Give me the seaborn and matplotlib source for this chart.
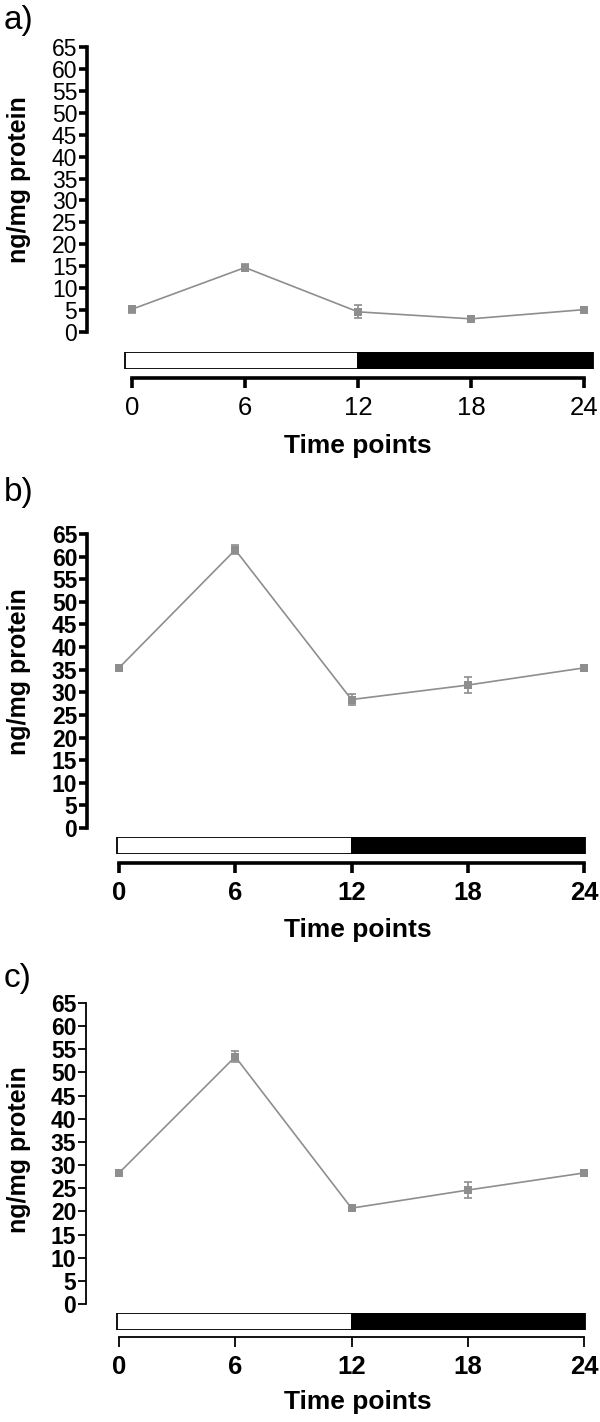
import matplotlib
matplotlib.use("Agg")
import matplotlib.pyplot as plt
import seaborn as sns
import pandas as pd

# data (mean +/- SEM)
time_points = [0, 6, 12, 18, 24]
mean_a = [5.2, 14.7, 4.6, 3.0, 5.1]
sem_a = [0.8, 0.8, 1.5, 0.3, 0.6]
mean_b = [35.4, 61.5, 28.4, 31.6, 35.4]
sem_b = [0.3, 1.0, 1.2, 1.7, 0.3]
mean_c = [28.3, 53.4, 20.7, 24.6, 28.3]
sem_c = [0.3, 1.2, 0.4, 1.7, 0.3]
y_ticks = list(range(0, 70, 5))
light_phase = [0, 12]
dark_phase = [12, 24]
panel_letters = ["a)", "b)", "c)"]

sns.set_style("white")
plt.rcParams["font.family"] = ["Liberation Sans", "DejaVu Sans"]
plt.rcParams["text.color"] = "black"
plt.rcParams["axes.labelcolor"] = "black"

W, H = 600, 1422
fig = plt.figure(figsize=(6, 14.22), dpi=100)


def px_axes(left, top, right, bottom):
    return fig.add_axes([left / W, 1 - bottom / H, (right - left) / W, (bottom - top) / H])


# pixel layout of each panel
layout = [
    dict(letter_y=20, top=47, zero=332, spine_x=87, x0=132, x24=584, pad_l=0.37, pad_r=0.48,
         bar_top=352, bar_bot=369, axis_y=378, bold=False, lw=2.6, ylab_y=180, xlab_y=434),
    dict(letter_y=493, top=534, zero=828, spine_x=87, x0=119, x24=584, pad_l=0.1, pad_r=0.05,
         bar_top=837, bar_bot=854, axis_y=863, bold=True, lw=2.6, ylab_y=672, xlab_y=918),
    dict(letter_y=978, top=1003, zero=1304, spine_x=86, x0=119, x24=584, pad_l=0.1, pad_r=0.05,
         bar_top=1313, bar_bot=1330, axis_y=1337, bold=True, lw=1.3, ylab_y=1150, xlab_y=1390),
]
means = [mean_a, mean_b, mean_c]
sems = [sem_a, sem_b, sem_c]
grey = "#8e8e8e"

for i, L in enumerate(layout):
    ppu = (L["x24"] - L["x0"]) / 24.0
    right_px = L["x24"] + 10
    xlim = ((L["spine_x"] - L["x0"]) / ppu, (right_px - L["x0"]) / ppu)
    tick_weight = "bold" if L["bold"] else "normal"

    # main data axes
    ax = px_axes(L["spine_x"], L["top"], right_px, L["zero"])
    df = pd.DataFrame({"time": time_points, "value": means[i]})
    ax.errorbar(time_points, means[i], yerr=sems[i], fmt="none", ecolor=grey,
                elinewidth=1.2, capsize=3, capthick=1.2, zorder=2)
    sns.lineplot(data=df, x="time", y="value", ax=ax, color=grey, linewidth=1.2,
                 marker="s", markersize=5.5, markeredgewidth=0, zorder=3)
    ax.set_xlim(*xlim)
    ax.set_ylim(0, 65)
    ax.set_yticks(y_ticks)
    ax.set_yticklabels([str(t) for t in y_ticks], fontsize=16.5, fontweight=tick_weight)
    for s in ["top", "right", "bottom"]:
        ax.spines[s].set_visible(False)
    ax.spines["left"].set_linewidth(L["lw"])
    ax.spines["left"].set_color("black")
    ax.tick_params(axis="y", left=True, direction="out", length=6, width=L["lw"], pad=1,
                   colors="black")
    ax.set_xticks([])
    ax.set_xlabel("")
    ax.set_ylabel("ng/mg protein", fontsize=18, fontweight="bold", color="black")
    ax.yaxis.set_label_coords((31 - L["spine_x"]) / (right_px - L["spine_x"]),
                              (L["zero"] - L["ylab_y"]) / (L["zero"] - L["top"]))
    ax.patch.set_alpha(0)

    # light/dark bar with the time axis beneath
    bx = px_axes(L["spine_x"], L["bar_top"], right_px, L["bar_bot"])
    bx.barh([0], [light_phase[1] - light_phase[0] + L["pad_l"]], left=[light_phase[0] - L["pad_l"]],
            height=1, color="white", edgecolor="black", linewidth=1.3)
    bx.barh([0], [dark_phase[1] - dark_phase[0] + L["pad_r"]], left=[dark_phase[0]],
            height=1, color="black", edgecolor="black", linewidth=1.3)
    bx.set_xlim(*xlim)
    bx.set_ylim(-0.5, 0.5)
    bx.set_yticks([])
    for s in ["top", "right", "left"]:
        bx.spines[s].set_visible(False)
    bx.spines["bottom"].set_position(("outward", (L["axis_y"] - L["bar_bot"]) * 0.72))
    bx.spines["bottom"].set_bounds(0, 24)
    bx.spines["bottom"].set_linewidth(L["lw"])
    bx.spines["bottom"].set_color("black")
    bx.set_xticks(time_points)
    bx.set_xticklabels([str(t) for t in time_points], fontsize=18.5, fontweight=tick_weight)
    bx.tick_params(axis="x", bottom=True, direction="out", length=7, width=L["lw"], pad=6,
                   colors="black")
    bx.set_xlabel("Time points", fontsize=19, fontweight="bold", color="black")
    bx.xaxis.set_label_coords((358 - L["spine_x"]) / (right_px - L["spine_x"]),
                              -(L["xlab_y"] - L["bar_bot"]) / (L["bar_bot"] - L["bar_top"]))
    bx.patch.set_alpha(0)

    fig.text(4 / W, 1 - L["letter_y"] / H, panel_letters[i], fontsize=24,
             ha="left", va="center")

fig.savefig("out.png", dpi=100)
